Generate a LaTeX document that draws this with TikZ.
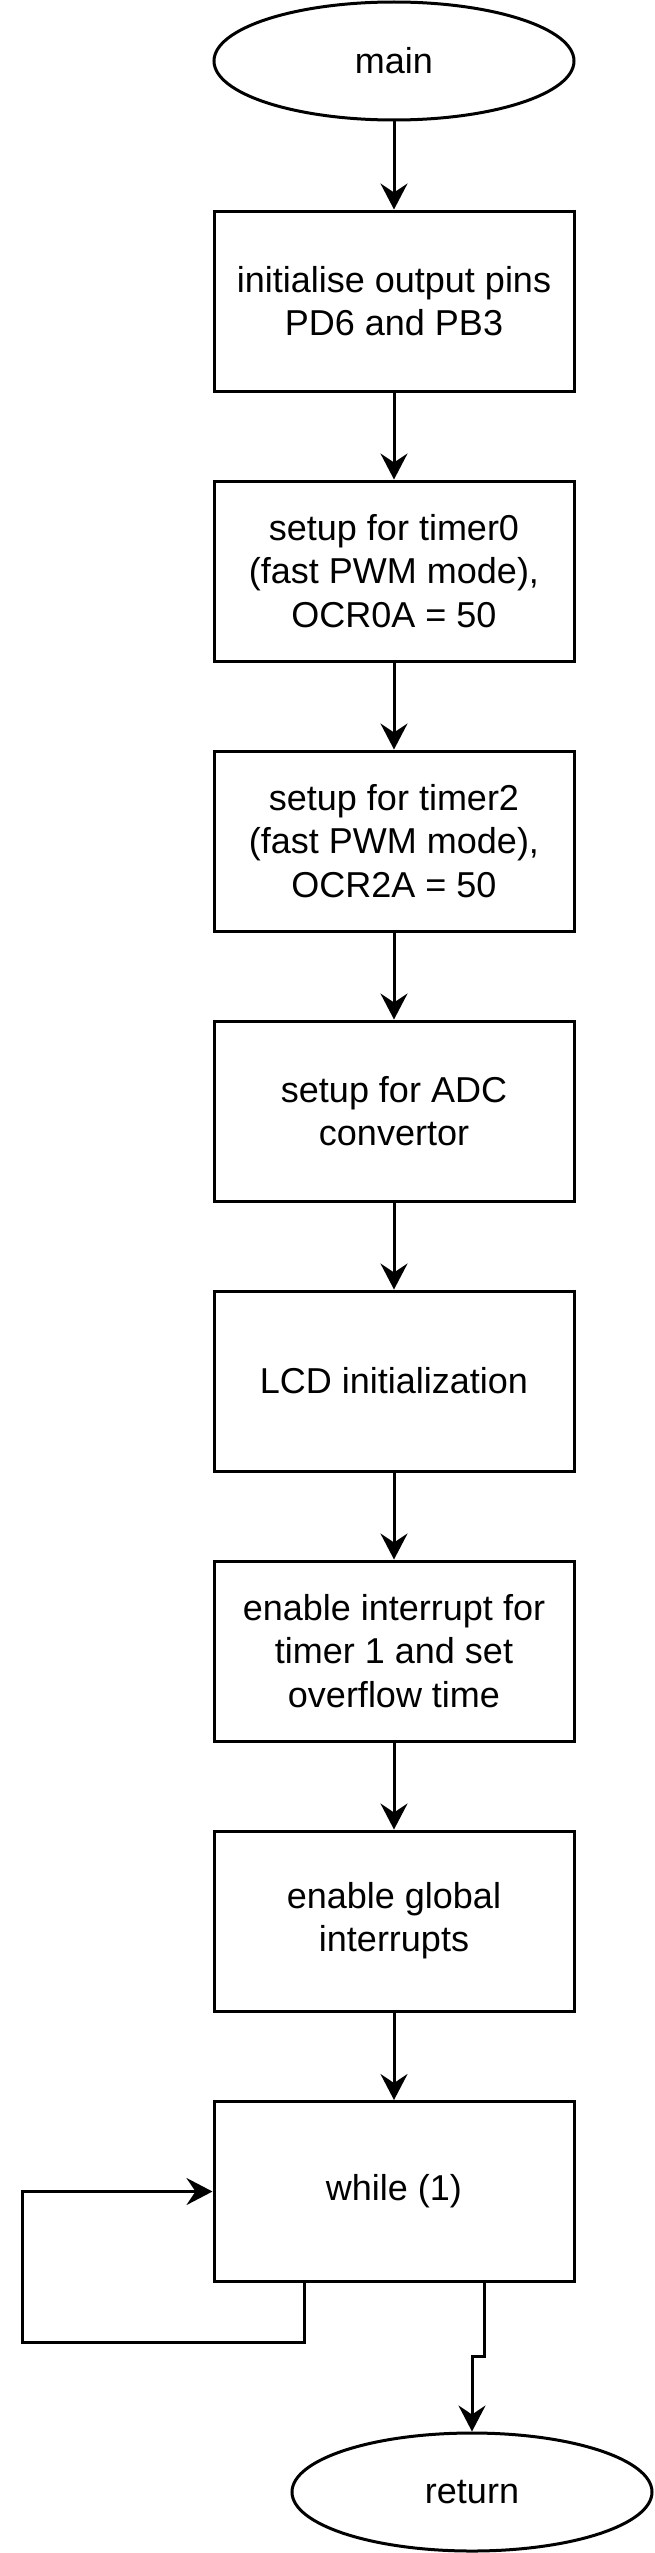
\documentclass[tikz,border=0pt]{standalone}
\usepackage{fontspec}
\setmainfont{Liberation Sans}
\usetikzlibrary{shapes.geometric,arrows.meta}

\begin{document}
\begin{tikzpicture}[
  x=0.5pt, y=-0.5pt,
  every node/.style={draw, line width=1.5pt, align=center, inner sep=0pt,
    font=\fontsize{18pt}{21.6pt}\selectfont},
  stepbox/.style={rectangle, minimum width=180pt, minimum height=90pt},
  terminal/.style={ellipse, minimum width=180pt, minimum height=59pt},
  arrow/.style={-{Stealth[length=13pt, width=13.5pt, inset=4.5pt]}, line width=1.5pt}
]
\useasboundingbox (0,0) rectangle (654,2553);
\node[terminal] (main) at (394,61) {main};
\node[stepbox] (pins) at (394,301) {initialise output pins\\PD6 and PB3};
\node[stepbox] (tmr0) at (394,571) {setup for timer0\\(fast PWM mode),\\OCR0A = 50};
\node[stepbox] (tmr2) at (394,841) {setup for timer2\\(fast PWM mode),\\OCR2A = 50};
\node[stepbox] (adc) at (394,1111) {setup for ADC\\convertor};
\node[stepbox] (lcd) at (394,1381) {LCD initialization};
\node[stepbox] (tmr1) at (394,1651) {enable interrupt for\\timer 1 and set\\overflow time};
\node[stepbox] (gie) at (394,1921) {enable global\\interrupts};
\node[stepbox] (whl) at (394,2191.5) {while (1)};
\node[terminal] (ret) at (472,2492) {return};
\coordinate (loopb) at (22,2342);
\coordinate (jog) at (472,2356);
\draw[arrow] (main) -- (pins);
\draw[arrow] (pins) -- (tmr0);
\draw[arrow] (tmr0) -- (tmr2);
\draw[arrow] (tmr2) -- (adc);
\draw[arrow] (adc) -- (lcd);
\draw[arrow] (lcd) -- (tmr1);
\draw[arrow] (tmr1) -- (gie);
\draw[arrow] (gie) -- (whl);
\draw[arrow] ([xshift=-45pt]whl.south) |- (loopb) |- (whl.west);
\draw[arrow] ([xshift=45pt]whl.south) |- (jog) -- (ret.north);
\end{tikzpicture}
\end{document}
